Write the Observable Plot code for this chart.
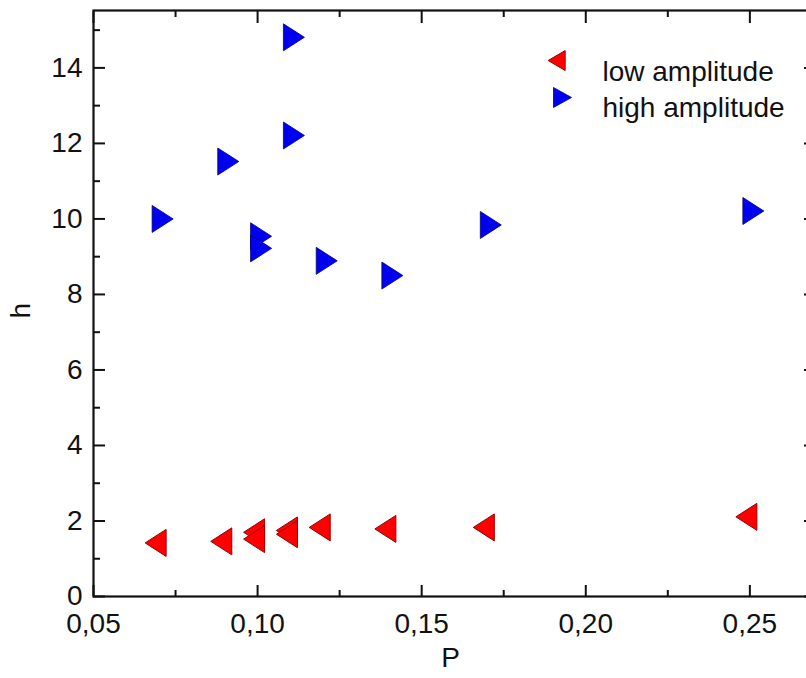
<!DOCTYPE html>
<html>
<head>
<meta charset="utf-8">
<script src="https://cdn.jsdelivr.net/npm/d3@7"></script>
<script src="https://cdn.jsdelivr.net/npm/@observablehq/plot@0.6"></script>
<style>
  html, body { margin: 0; padding: 0; background: #fff; overflow: hidden; }
  #chart { width: 806px; height: 678px; overflow: hidden; position: relative; }
  #chart svg { position: absolute; left: 0; top: 0; max-width: none; }
</style>
</head>
<body>
<div id="chart"></div>
<script>
// ---- data ----
const P_low  = [0.07, 0.09, 0.10, 0.10, 0.11, 0.11, 0.12, 0.14, 0.17, 0.25];
const h_low  = [1.42, 1.46, 1.70, 1.52, 1.75, 1.65, 1.83, 1.79, 1.83, 2.11];
const P_high = [0.07, 0.09, 0.10, 0.10, 0.11, 0.11, 0.12, 0.14, 0.17, 0.25];
const h_high = [10.0, 11.52, 9.54, 9.22, 14.81, 12.21, 8.89, 8.50, 9.84, 10.21];
const seriesNames = ["low amplitude", "high amplitude"];
const xMajor = [0.05, 0.10, 0.15, 0.20, 0.25];
const xMinor = [0.075, 0.125, 0.175, 0.225];
const yMajor = [0, 2, 4, 6, 8, 10, 12, 14];
const yMinor = [1, 3, 5, 7, 9, 11, 13, 15];
const xLabel = "P";
const yLabel = "h";

const low = P_low.map((p, i) => ({P: p, h: h_low[i]}));
const high = P_high.map((p, i) => ({P: p, h: h_high[i]}));

// custom triangle symbols (centroid at origin)
function tri(dir, w, hgt) {
  return {
    draw(ctx) {
      const s = dir; // +1 right, -1 left
      ctx.moveTo(-s * w / 3, -hgt / 2);
      ctx.lineTo(s * 2 * w / 3, 0);
      ctx.lineTo(-s * w / 3, hgt / 2);
      ctx.closePath();
    }
  };
}
const leftTri = tri(-1, 21, 27);
const rightTri = tri(1, 21, 27);
const leftTriSm = tri(-1, 17, 20);
const rightTriSm = tri(1, 18, 20);

const RED = "#ff0000", RED_S = "#9a0000";
const BLUE = "#0000f0", BLUE_S = "#00007a";
const INK = "#111";
const FS = 28;
const fmt = d => d.toFixed(2).replace(".", ",");
const blank = () => "";

const chart = Plot.plot({
  width: 815,
  height: 678,
  marginLeft: 93,
  marginRight: 0,
  marginTop: 10,
  marginBottom: 82,
  style: {fontFamily: "'Liberation Sans', Arial, sans-serif", fontSize: "28px", color: INK, background: "#fff"},
  x: {domain: [0.05, 0.27]},
  y: {domain: [0, 15.52]},
  marks: [
    // ticks pointing inward
    Plot.axisX(xMajor, {anchor: "bottom", tickSize: -11, strokeWidth: 2, tickFormat: blank, label: null}),
    Plot.axisX(xMinor, {anchor: "bottom", tickSize: -6, strokeWidth: 2, tickFormat: blank, label: null}),
    Plot.axisX(xMajor, {anchor: "top", tickSize: -12, strokeWidth: 2, tickFormat: blank, label: null}),
    Plot.axisX(xMinor, {anchor: "top", tickSize: -6, strokeWidth: 2, tickFormat: blank, label: null}),
    Plot.axisY(yMajor, {anchor: "left", tickSize: -12, strokeWidth: 2, tickFormat: blank, label: null}),
    Plot.axisY(yMinor, {anchor: "left", tickSize: -7, strokeWidth: 2, tickFormat: blank, label: null}),
    Plot.axisY(yMajor, {anchor: "right", tickSize: -12, strokeWidth: 2, tickFormat: blank, label: null}),
    Plot.axisY(yMinor, {anchor: "right", tickSize: -7, strokeWidth: 2, tickFormat: blank, label: null}),
    // tick labels
    Plot.axisX(xMajor, {anchor: "bottom", tickSize: 0, tickPadding: 17, tickFormat: fmt, label: null, fontSize: FS}),
    Plot.axisY(yMajor, {anchor: "left", tickSize: 0, tickPadding: 11, tickFormat: d => String(d), label: null, fontSize: FS}),
    Plot.frame({stroke: INK, strokeWidth: 2.2}),
    // data
    Plot.dot(low, {x: "P", y: "h", symbol: leftTri, fill: RED, stroke: RED_S, strokeWidth: 1}),
    Plot.dot(high, {x: "P", y: "h", symbol: rightTri, fill: BLUE, stroke: BLUE_S, strokeWidth: 0.8}),
    // legend
    Plot.dot([seriesNames[0]], {frameAnchor: "top-left", dx: 466, dy: 50, symbol: leftTriSm, fill: RED, stroke: RED_S, strokeWidth: 1}),
    Plot.dot([seriesNames[1]], {frameAnchor: "top-left", dx: 466, dy: 87, symbol: rightTriSm, fill: BLUE, stroke: BLUE_S, strokeWidth: 0.8}),
    Plot.text([seriesNames[0]], {text: d => d, frameAnchor: "top-left", dx: 509, dy: 51, textAnchor: "start", fill: INK, fontSize: FS}),
    Plot.text([seriesNames[1]], {text: d => d, frameAnchor: "top-left", dx: 509, dy: 87, textAnchor: "start", fill: INK, fontSize: FS}),
    // axis labels
    Plot.text([yLabel], {text: d => d, frameAnchor: "left", dx: -72, dy: 15, rotate: -90, fill: INK, fontSize: FS}),
    Plot.text([xLabel], {text: d => d, frameAnchor: "bottom", dx: -4, dy: 70, fill: INK, fontSize: FS})
  ]
});
document.getElementById("chart").appendChild(chart);
</script>
</body>
</html>
